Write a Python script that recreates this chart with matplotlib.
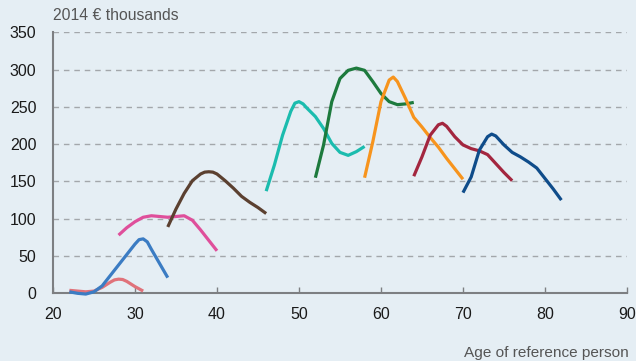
import matplotlib
matplotlib.use("Agg")
import matplotlib.pyplot as plt

plt.rcParams["font.family"] = ["Liberation Sans", "DejaVu Sans"]

BG = "#e5eef4"
GRID = "#a3a7ab"
SPINE = "#7d7f82"
TEXT = "#1a1a1a"
GREY = "#555555"

# each cohort: ages and net wealth (2014 EUR thousands)
coral_age = [22, 23, 24, 25, 26, 27, 27.5, 28, 28.5, 29, 30, 31]
coral_val = [4, 3, 2, 3, 8, 15, 18, 19, 18.5, 16, 9, 3]

blue_age = [22, 23, 24, 25, 26, 27, 28, 29, 30, 30.5, 31, 31.5, 32, 33, 34]
blue_val = [2, 0, -1, 2, 10, 24, 38, 52, 66, 72, 73, 69, 59, 40, 21]

pink_age = [28, 29, 30, 31, 32, 33, 34, 35, 36, 37, 38, 39, 40]
pink_val = [78, 88, 96, 102, 104, 103, 102, 103, 104, 98, 85, 71, 57]

brown_age = [34, 35, 36, 37, 38, 38.5, 39, 39.5, 40, 41, 42, 43, 44, 45, 46]
brown_val = [89, 113, 134, 151, 160, 162.5, 163, 162.5, 160, 151, 141, 130, 122, 115, 107]

teal_age = [46, 47, 48, 49, 49.5, 50, 50.5, 51, 52, 53, 54, 55, 56, 57, 58]
teal_val = [137, 172, 212, 244, 255, 257, 254, 248, 237, 221, 201, 189, 185, 190, 197]

green_age = [52, 53, 54, 55, 56, 57, 58, 59, 60, 61, 62, 63, 64]
green_val = [155, 199, 257, 288, 299, 302, 299, 284, 268, 257, 253, 254, 256]

orange_age = [58, 59, 60, 61, 61.5, 62, 63, 64, 65, 66, 67, 68, 69, 70]
orange_val = [155, 203, 257, 286, 290, 284, 261, 236, 223, 209, 196, 181, 167, 153]

maroon_age = [64, 65, 66, 67, 67.5, 68, 69, 70, 71, 72, 73, 74, 75, 76]
maroon_val = [157, 183, 212, 226, 228, 224, 210, 199, 194, 191, 186, 174, 162, 151]

navy_age = [70, 71, 72, 73, 73.5, 74, 75, 76, 77, 78, 79, 80, 81, 82]
navy_val = [135, 156, 192, 210, 213.5, 211, 199, 189, 183, 176, 168, 154, 140, 125]

series = [
    (coral_age, coral_val, "#e0727a"),
    (blue_age, blue_val, "#3b7cc3"),
    (pink_age, pink_val, "#df4f9b"),
    (brown_age, brown_val, "#5b4030"),
    (teal_age, teal_val, "#1bbcae"),
    (green_age, green_val, "#1d7a3d"),
    (orange_age, orange_val, "#f7941d"),
    (maroon_age, maroon_val, "#a3263f"),
    (navy_age, navy_val, "#0f4c8a"),
]

fig = plt.figure(figsize=(6.36, 3.61), dpi=100, facecolor=BG)
ax = fig.add_axes([0.0833, 0.1875, 0.9025, 0.723])
ax.set_facecolor(BG)

for ages, vals, col in series:
    ax.plot(ages, vals, color=col, linewidth=2.3, solid_joinstyle="round",
            solid_capstyle="butt", clip_on=False, zorder=3)

ax.set_xlim(20, 90)
ax.set_ylim(0, 350)
ax.set_xticks(range(20, 91, 10))
ax.set_yticks(range(0, 351, 50))
for v in range(50, 351, 50):
    ax.axhline(v, color=GRID, linewidth=1, linestyle=(0, (4, 3.5)), zorder=1)

for side in ["top", "right"]:
    ax.spines[side].set_visible(False)
for side in ["left", "bottom"]:
    ax.spines[side].set_color(SPINE)
    ax.spines[side].set_linewidth(1.5)

ax.tick_params(axis="x", direction="in", length=4, width=1, color=SPINE,
               labelsize=11.5, labelcolor=TEXT, pad=10)
ax.tick_params(axis="y", length=0, labelsize=11.5, labelcolor=TEXT, pad=12)

fig.text(0.0833, 0.956, "2014 € thousands", fontsize=11.3, color=GREY,
         ha="left", va="center")
fig.text(0.988, 0.022, "Age of reference person", fontsize=11.1, color=GREY,
         ha="right", va="center")

fig.savefig("out.png", dpi=100, facecolor=BG)
plt.close(fig)
